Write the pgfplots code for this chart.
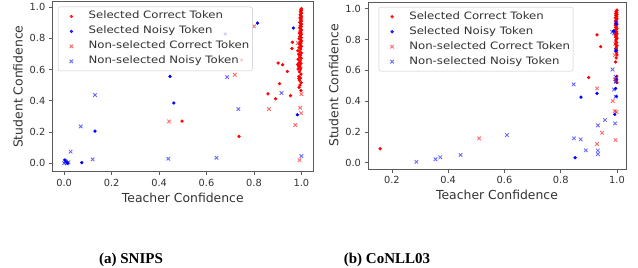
\documentclass[border=0pt]{standalone}
\usepackage{pgfplots}
\pgfplotsset{compat=1.18}
\usepackage{fontspec}
\setmainfont{DejaVu Sans}
\newfontfamily\legfont{DejaVu Sans}[FakeStretch=1.15]
\newfontfamily\capfont{Liberation Serif}
\definecolor{mplred}{RGB}{255,0,0}
\definecolor{mplblue}{RGB}{0,0,255}
\definecolor{spine}{RGB}{90,90,90}
\definecolor{ticktext}{RGB}{50,50,50}

\pgfplotsset{
  scatterbase/.style={
    scale only axis,
    axis line style={spine, line width=0.6pt},
    tick align=outside,
    major tick length=3.5pt,
    tick style={spine, line width=0.6pt},
    xtick pos=bottom, ytick pos=left,
    /pgf/number format/assume math mode=true,
    /pgf/number format/.cd, fixed, fixed zerofill, precision=1, /pgfplots/.cd,
    ticklabel style={font=\fontsize{9.8}{11}\selectfont, text=ticktext},
    label style={font=\fontsize{12.4}{14}\selectfont, text=ticktext},
    ytick={0,0.2,0.4,0.6,0.8,1.0},
    xlabel={Teacher Confidence},
    ylabel={Student Confidence},
    legend cell align=left,
    legend image code/.code={
      \path (-11pt,0pt) (16pt,0pt);
      \draw[#1] plot coordinates {(0pt,0pt)};
    },
    legend style={
      at={(0,1)}, anchor=north west, xshift=5.7pt, yshift=-5pt,
      fill=white, fill opacity=0.8, text opacity=1, draw=black!22,
      rounded corners=2pt, inner sep=2pt,
      font=\legfont\fontsize{10.2}{12}\selectfont, text=ticktext,
      nodes={inner xsep=1pt, inner ysep=2.5pt, text height=7.5pt, text depth=2.5pt},
      row sep=0pt, column sep=0pt,
    },
    sc/.style={only marks, mark=*, mark size=1.45pt, color=mplred},
    sn/.style={only marks, mark=*, mark size=1.45pt, color=mplblue},
    nc/.style={only marks, mark=x, mark size=2.5pt, color=mplred, opacity=0.6, mark options={line width=0.85pt}},
    nn/.style={only marks, mark=x, mark size=2.5pt, color=mplblue, opacity=0.6, mark options={line width=0.85pt}},
  }
}

\begin{document}
\begin{tikzpicture}[x=1pt,y=1pt]
\path[use as bounding box] (0,0) rectangle (638,268);

% ---------------- (a) SNIPS ----------------
\begin{axis}[scatterbase,
  at={(52.3pt,96.3pt)}, anchor=south west,
  width=261pt, height=170pt,
  xmin=-0.05, xmax=1.05, ymin=-0.055, ymax=1.034,
  xtick={0,0.2,0.4,0.6,0.8,1.0},
]
\addplot[sc] coordinates {
(0.737,0.171)(0.497,0.269)(0.747,0.660)(0.859,0.444)(0.891,0.412)(0.908,0.509)
(0.902,0.641)(0.921,0.630)(0.941,0.587)(0.954,0.432)(0.962,0.774)(0.960,0.734)
(0.998,0.465)(0.989,0.542)
(1.0,0.99)(0.998,0.985)(1.0,0.978)(0.996,0.972)(0.999,0.965)(1.0,0.958)(0.995,0.951)
(0.998,0.944)(1.0,0.937)(0.994,0.930)(0.999,0.923)(0.997,0.916)(1.0,0.909)(0.993,0.902)
(0.998,0.895)(1.0,0.888)(0.995,0.881)(0.999,0.874)(0.992,0.867)(0.997,0.860)(1.0,0.853)
(0.994,0.846)(0.998,0.839)(0.991,0.832)(1.0,0.825)(0.996,0.818)(0.993,0.811)(0.999,0.804)
(0.990,0.797)(0.997,0.790)(1.0,0.783)(0.994,0.776)(0.998,0.769)(0.991,0.762)(0.996,0.755)
(1.0,0.748)
(0.990,0.740)(0.997,0.730)(0.985,0.720)(0.994,0.712)(1.0,0.705)(0.988,0.698)(0.996,0.690)
(0.992,0.680)(0.999,0.672)(0.986,0.665)(0.995,0.655)(0.990,0.645)(0.998,0.638)(0.984,0.632)
(0.993,0.625)(0.989,0.618)(0.997,0.610)(0.986,0.603)(0.995,0.598)
(0.991,0.585)(0.998,0.570)(0.989,0.555)(0.996,0.545)(0.992,0.530)(0.999,0.515)(0.994,0.500)
(0.990,0.485)
};
\addlegendentry{Selected Correct Token}
\addplot[sn] coordinates {
(0.003,0.020)(0.010,0.005)(0.015,0.000)(0.074,0.003)(0.130,0.205)(0.446,0.556)
(0.462,0.385)(0.678,0.827)(0.815,0.897)(0.966,0.865)(0.983,0.310)
};
\addlegendentry{Selected Noisy Token}
\addplot[nc] coordinates {
(0.442,0.267)(0.719,0.566)(0.801,0.876)(0.863,0.346)(0.974,0.244)(0.995,0.355)
(0.999,0.320)(1.0,0.442)(0.992,0.019)(0.985,0.770)
};
\addlegendentry{Non-selected Correct Token}
\addplot[nn] coordinates {
(0.130,0.436)(0.070,0.235)(0.027,0.073)(0.120,0.024)(0.439,0.028)(0.642,0.034)
(0.687,0.551)(0.734,0.346)(0.916,0.449)(1.0,0.045)(0.0,0.0)(0.008,0.008)
(0.012,-0.002)(0.018,0.005)(0.004,0.012)
};
\addlegendentry{Non-selected Noisy Token}
\end{axis}

% ---------------- (b) CoNLL03 ----------------
\begin{axis}[scatterbase,
  at={(368pt,99pt)}, anchor=south west,
  width=258pt, height=167pt,
  xmin=0.115, xmax=1.032, ymin=-0.041, ymax=1.043,
  xtick={0.2,0.4,0.6,0.8,1.0},
  legend style={xshift=5pt},
]
\addplot[sc] coordinates {
(0.158,0.090)(0.929,0.830)(0.942,0.753)(0.899,0.553)(0.995,0.654)
(1.0,0.99)(0.997,0.983)(0.999,0.976)(0.995,0.969)(1.0,0.962)(0.996,0.955)(0.999,0.948)
(0.994,0.941)(1.0,0.934)(0.997,0.927)(0.995,0.920)(0.999,0.913)(0.996,0.906)(1.0,0.899)
(0.994,0.892)(0.998,0.885)(0.995,0.878)(1.0,0.871)(0.997,0.864)(0.993,0.857)(0.999,0.850)
(0.996,0.843)(1.0,0.836)(0.994,0.829)(0.998,0.822)(0.995,0.815)(1.0,0.808)(0.997,0.800)
(0.996,0.790)(0.999,0.780)(0.995,0.770)(1.0,0.760)(0.997,0.750)(0.996,0.740)(0.999,0.730)
(0.998,0.715)(1.0,0.700)(0.997,0.680)(0.999,0.560)(0.998,0.540)(1.0,0.520)
};
\addlegendentry{Selected Correct Token}
\addplot[sn] coordinates {
(0.872,0.425)(0.929,0.450)(0.851,0.032)(0.992,0.313)(0.995,0.482)(0.996,0.726)
(0.988,0.855)(0.997,0.900)(0.998,0.430)(0.999,0.540)
};
\addlegendentry{Selected Noisy Token}
\addplot[nc] coordinates {
(0.510,0.158)(0.929,0.482)(0.947,0.194)(0.929,0.121)(0.985,0.400)(0.992,0.335)
(0.995,0.147)(0.993,0.540)(0.992,0.698)(0.994,0.770)(0.998,0.330)(0.996,0.530)
};
\addlegendentry{Non-selected Correct Token}
\addplot[nn] coordinates {
(0.287,0.006)(0.355,0.022)(0.372,0.035)(0.444,0.050)(0.609,0.179)(0.761,0.752)
(0.846,0.508)(0.847,0.158)(0.871,0.151)(0.889,0.080)(0.932,0.242)(0.932,0.079)
(0.932,0.055)(0.957,0.277)(0.984,0.605)(0.989,0.475)(0.983,0.848)(0.990,0.840)
(0.993,0.255)(0.995,0.557)(0.995,0.525)(0.995,0.428)(0.996,0.730)(0.995,0.910)
};
\addlegendentry{Non-selected Noisy Token}
\end{axis}

\node[font=\capfont\bfseries\fontsize{15}{17}\selectfont, anchor=base] at (131,5) {(a) SNIPS};
\node[font=\capfont\bfseries\fontsize{15}{17}\selectfont, anchor=base] at (387,5) {(b) CoNLL03};
\end{tikzpicture}
\end{document}
